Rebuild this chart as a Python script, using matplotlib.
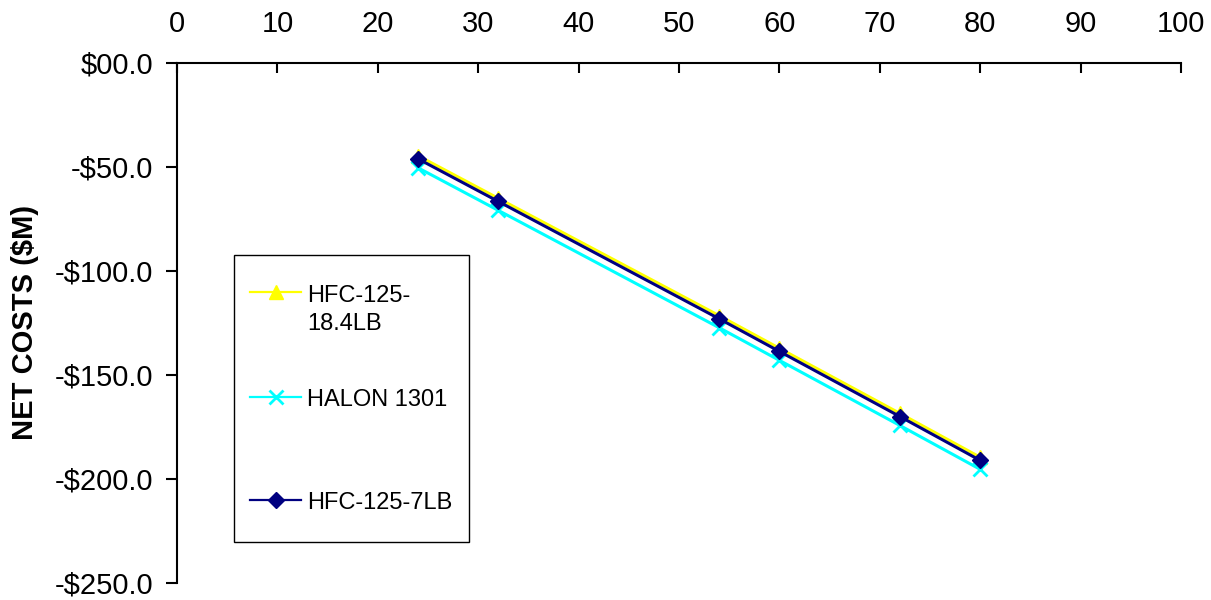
import matplotlib
matplotlib.use("Agg")
import matplotlib.pyplot as plt
from matplotlib.ticker import FuncFormatter, MultipleLocator
from matplotlib.patches import Rectangle
from matplotlib.lines import Line2D

plt.rcParams['font.family'] = ['Liberation Sans', 'DejaVu Sans']

# ---- data ----
x_vals = [24, 32, 54, 60, 72, 80]
hfc125_184lb = [-44.8, -65.3, -121.7, -137.4, -168.7, -189.8]
halon1301 = [-50.6, -71.1, -127.5, -143.2, -174.5, -195.6]
hfc125_7lb = [-46.3, -66.8, -123.2, -138.9, -170.2, -191.3]
series_labels = ["HFC-125-\n18.4LB", "HALON 1301", "HFC-125-7LB"]
y_label = "NET COSTS ($M)"

fig = plt.figure(figsize=(12.11, 6), dpi=100)
ax = fig.add_axes([177/1211, 1-582.5/600, 1004/1211, 520/600])

styles = [
    dict(color="#FFFF00", marker="^", markersize=10, linewidth=2.2),
    dict(color="#00FFFF", marker="x", markersize=10, markeredgewidth=2, linewidth=2.2),
    dict(color="#000080", marker="D", markersize=8, linewidth=2.2),
]
for ys, st in zip([hfc125_184lb, halon1301, hfc125_7lb], styles):
    ax.plot(x_vals, ys, clip_on=False, **st)

ax.set_xlim(0, 100)
ax.set_ylim(-250, 0)
ax.xaxis.set_major_locator(MultipleLocator(10))
ax.yaxis.set_major_locator(MultipleLocator(50))
ax.xaxis.tick_top()
ax.spines['bottom'].set_visible(False)
ax.spines['right'].set_visible(False)
for s in ['top', 'left']:
    ax.spines[s].set_linewidth(1.5)

def yfmt(v, pos):
    if abs(v) < 1e-9:
        return "$00.0"
    return "-${:.1f}".format(abs(v))
ax.yaxis.set_major_formatter(FuncFormatter(yfmt))

ax.tick_params(axis='x', direction='in', length=7, width=1.5, pad=18, labelsize=21)
ax.tick_params(axis='y', direction='out', length=8, width=1.5, pad=9, labelsize=21)

fig.text(25/1211, 1-322/600, y_label, rotation=90, ha='center', va='center',
         fontsize=21, fontweight='bold')

# ---- legend (manual, to match the layout) ----
def ax_x(px):
    return (px-177)/1004
def ax_y(py):
    return (582.5-py)/520

rect = Rectangle((ax_x(234), ax_y(542)), ax_x(469)-ax_x(234), ax_y(255)-ax_y(542),
                 transform=ax.transAxes, facecolor='white', edgecolor='black',
                 linewidth=1.0, clip_on=False, zorder=5)
ax.add_patch(rect)
handle_ys = [292, 396.5, 499.5]
for st, hy in zip(styles, handle_ys):
    kw = dict(st)
    marker = kw.pop('marker')
    ms = kw.pop('markersize')
    mew = kw.pop('markeredgewidth', None)
    ln = Line2D([ax_x(250), ax_x(301)], [ax_y(hy)]*2, transform=ax.transAxes,
                color=kw['color'], linewidth=1.6, clip_on=False, zorder=6)
    ax.add_line(ln)
    mk = Line2D([ax_x(275.5)], [ax_y(hy)], transform=ax.transAxes, color=kw['color'],
                marker=marker, markersize=ms, linestyle='none', clip_on=False, zorder=7,
                **({'markeredgewidth': mew} if mew else {}))
    ax.add_line(mk)

first_lines = series_labels[0].split("\n")
ax.text(ax_x(307), ax_y(293), first_lines[0], transform=ax.transAxes, fontsize=17,
        va='center_baseline', ha='left', zorder=8)
ax.text(ax_x(307), ax_y(321.5), first_lines[1], transform=ax.transAxes, fontsize=17,
        va='center_baseline', ha='left', zorder=8)
ax.text(ax_x(307), ax_y(397), series_labels[1], transform=ax.transAxes, fontsize=17,
        va='center_baseline', ha='left', zorder=8)
ax.text(ax_x(307), ax_y(500.5), series_labels[2], transform=ax.transAxes, fontsize=17,
        va='center_baseline', ha='left', zorder=8)

fig.savefig("out.png", dpi=100)
